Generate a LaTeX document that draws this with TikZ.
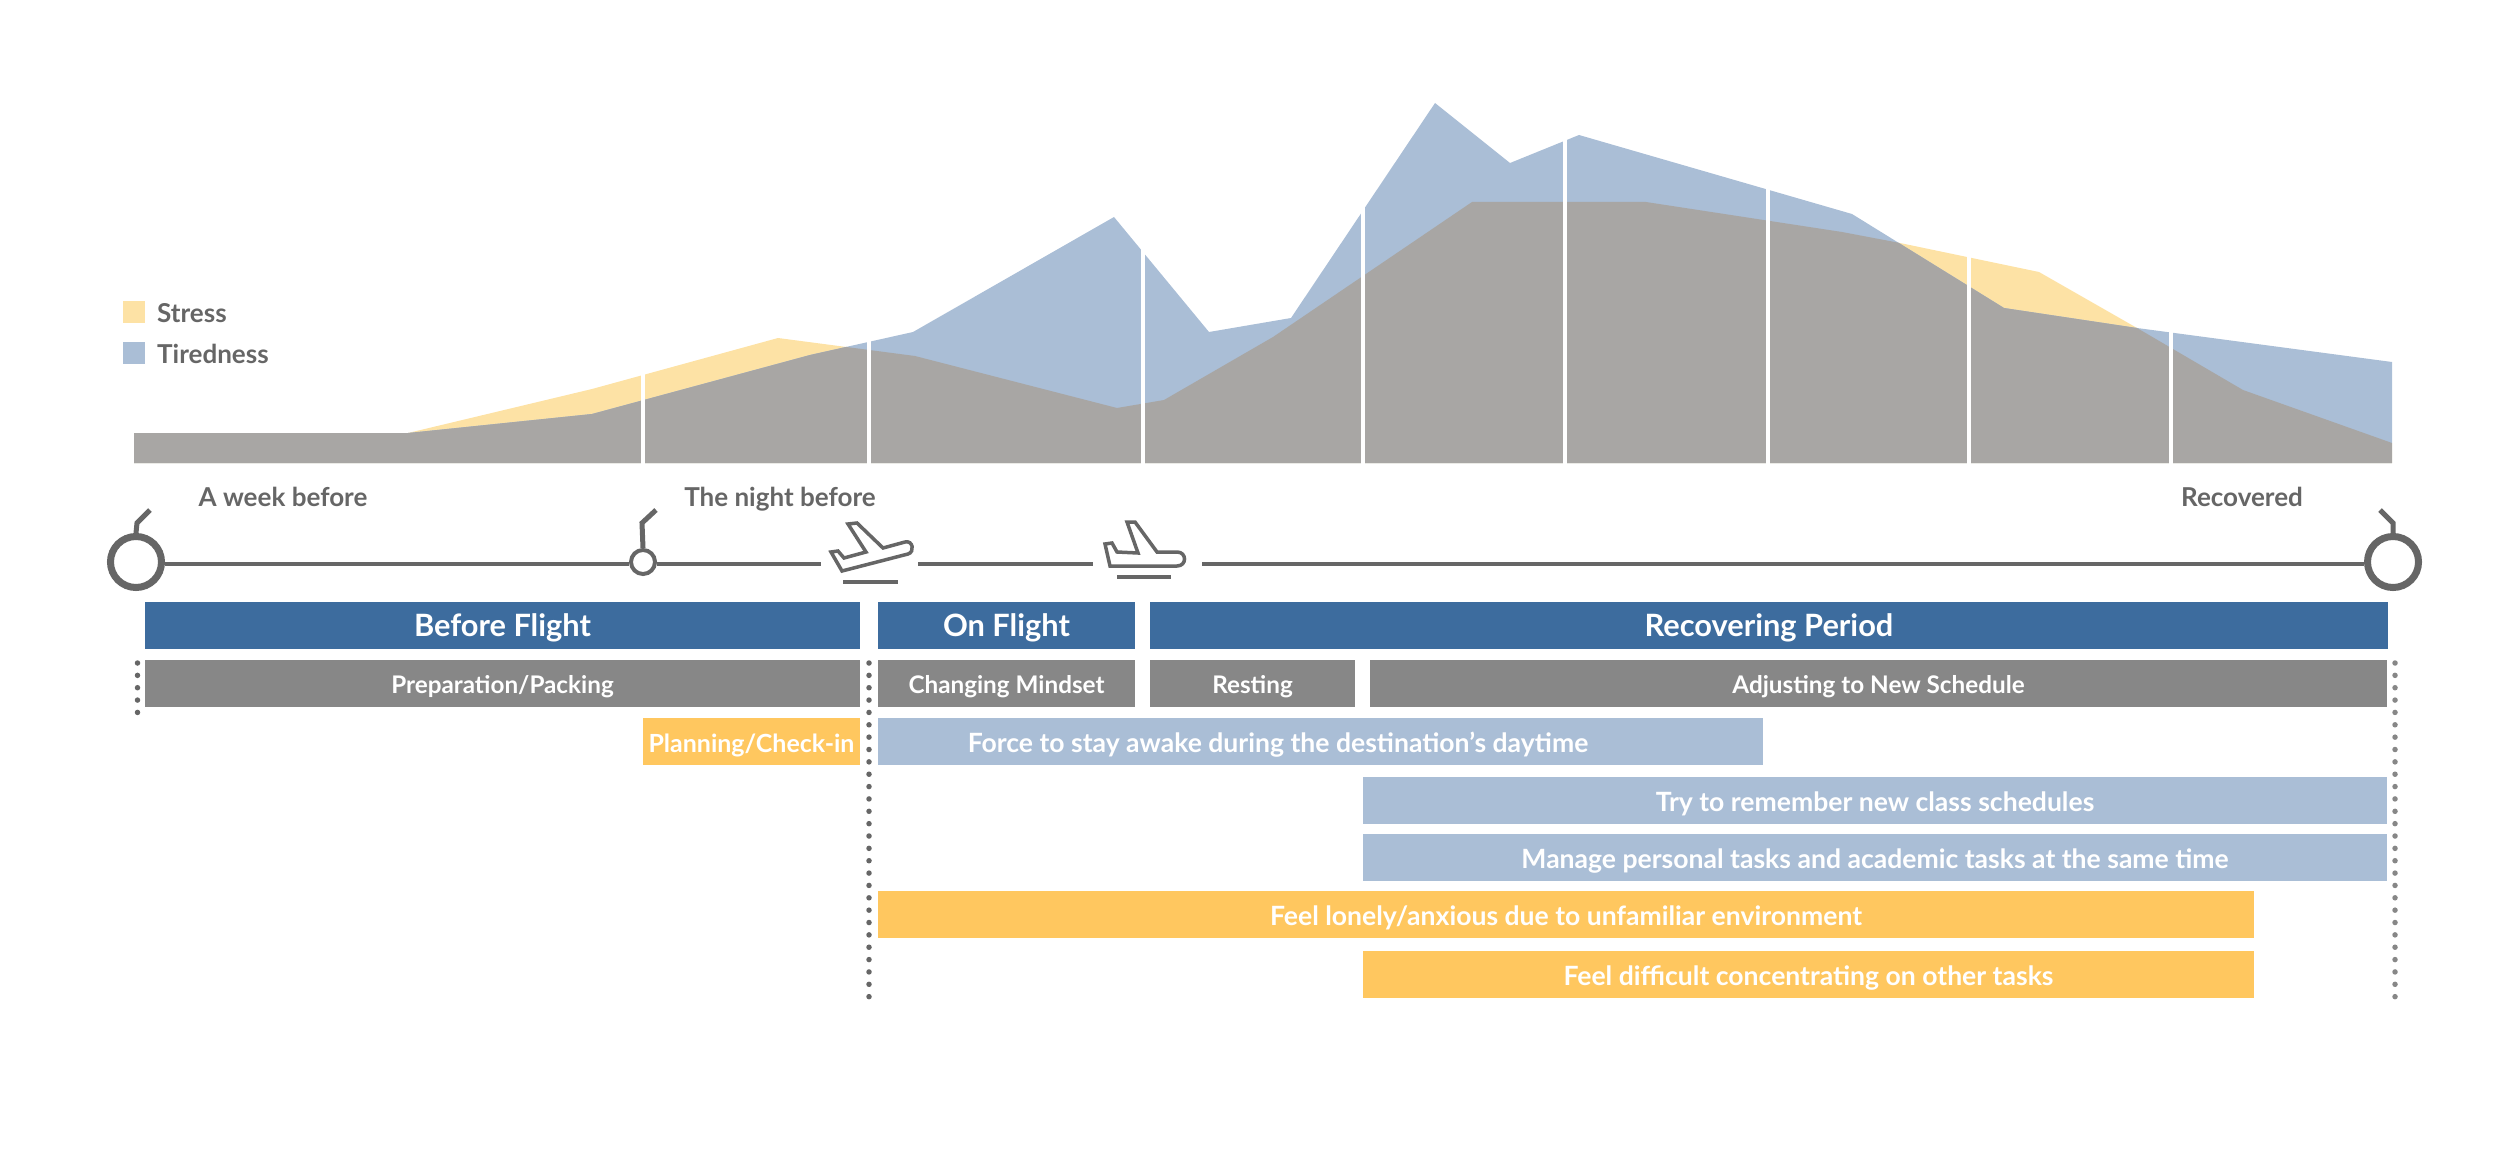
\documentclass[tikz,border=0pt]{standalone}
\usepackage{fontspec}
\setmainfont{Lato}
\usetikzlibrary{positioning}
\definecolor{TripBlue}{HTML}{3D6C9E}
\definecolor{TripGray}{HTML}{878787}
\definecolor{TripOrange}{HTML}{FFC75F}
\definecolor{TripSky}{HTML}{AABED6}
\definecolor{TripYellow}{HTML}{FDE2A5}
\definecolor{TripOverlap}{HTML}{A8A6A4}
\definecolor{TripInk}{HTML}{666666}
\tikzset{
  trip/bar/.style={
    draw=none,
    inner sep=0pt,
    minimum height=0.47cm,
    align=center,
    text=white,
    text height=0.21cm,
    text depth=0pt,
    font=\fontsize{7.55pt}{9pt}\selectfont\bfseries
  },
  trip/phase/.style={trip/bar, fill=TripBlue, text height=0.22cm, font=\fontsize{8.75pt}{10pt}\selectfont\bfseries},
  trip/task/.style={trip/bar, fill=TripGray, text height=0.19cm, font=\fontsize{6.9pt}{8pt}\selectfont\bfseries},
  trip/stress/.style={trip/bar, fill=TripOrange},
  trip/tired/.style={trip/bar, fill=TripSky},
  trip/label/.style={font=\fontsize{7.4pt}{9pt}\selectfont\bfseries, text=TripInk, inner sep=0pt, text height=0.2cm, text depth=0pt},
  trip/bartext/.style={font=\fontsize{7.55pt}{9pt}\selectfont\bfseries, text=white, inner sep=0pt, text height=0.21cm, text depth=0pt},
  trip/swatch/.style={inner sep=0pt, minimum width=0.215cm, minimum height=0.22cm},
  trip/major/.style={circle, draw=TripInk, line width=0.07cm, fill=white, inner sep=0pt, minimum size=0.51cm},
  trip/minor/.style={circle, draw=TripInk, line width=0.04cm, fill=white, inner sep=0pt, minimum size=0.24cm},
  trip/line/.style={draw=TripInk, line width=0.04cm},
  trip/stem/.style={draw=TripInk, line width=0.05cm},
  trip/icon/.style={draw=TripInk, line width=0.035cm, line join=miter},
  trip/dots/.style={draw=TripInk, line width=0.055cm, line cap=round, dash pattern=on 0pt off 0.1235cm},
  trip/divider/.style={draw=white, line width=0.04cm}
}
\begin{document}
\begin{tikzpicture}[x=0.01cm,y=-0.01cm]
  \useasboundingbox (0,0) rectangle (2500,1176);
  % area chart
  \def\stressarea{(134,463) -- (134,433) -- (408,433) -- (592,389) -- (778,338) -- (915,356) -- (1117,408) -- (1164,400) -- (1273,337) -- (1472,202) -- (1646,202) -- (1842,232) -- (1900,243) -- (2039,272) -- (2137,328) -- (2243,390) -- (2392,443) -- (2392,463) -- cycle}
  \def\tiredarea{(134,463) -- (134,433) -- (408,433) -- (592,414) -- (810,355) -- (913,332) -- (1114,217) -- (1209,332) -- (1291,318) -- (1435,103) -- (1510,163) -- (1579,135) -- (1852,214) -- (2004,308) -- (2137,328) -- (2392,362) -- (2392,463) -- cycle}
  \fill[TripYellow] \stressarea;
  \fill[TripSky] \tiredarea;
  \begin{scope}
    \clip \stressarea;
    \fill[TripOverlap] \tiredarea;
  \end{scope}
  \foreach \x in {643,869,1143,1363,1565,1768,1969,2171}
    \draw[trip/divider] (\x,465) -- (\x,60);

  % legend
  \node[trip/swatch,fill=TripYellow] (stresskey) at (134,312) {};
  \node[trip/swatch,fill=TripSky] (tiredkey) at (134,353) {};
  \node[trip/label,right=0.11cm of stresskey] (stresstext) {Stress};
  \node[trip/label,right=0.11cm of tiredkey] (tiredtext) {Tiredness};

  % timeline
  \coordinate (tl) at (0,564);
  \node[trip/major] (startpt) at (136,562) {};
  \node[trip/minor] (nightpt) at (643,562) {};
  \node[trip/major] (endpt) at (2393,562) {};
  \coordinate (takeoffin) at (821,564);
  \coordinate (takeoffout) at (918,564);
  \coordinate (landin) at (1093,564);
  \coordinate (landout) at (1202,564);
  \draw[trip/line] (startpt.east |- tl) -- (nightpt.west |- tl);
  \draw[trip/line] (nightpt.east |- tl) -- (takeoffin);
  \draw[trip/line] (takeoffout) -- (landin);
  \draw[trip/line] (landout) -- (endpt.west |- tl);
  \draw[trip/stem] (startpt.north) -- (137,523) -- (150,510);
  \draw[trip/stem] (nightpt.north) -- (642,523) -- (656,510);
  \draw[trip/stem] (endpt.north) -- (2393,523) -- (2380,510);
  \node[trip/label] (weeklabel) at (283,496) {A week before};
  \node[trip/label] (nightlabel) at (780,496) {The night before};
  \node[trip/label] (recoveredlabel) at (2242,496) {Recovered};

  % plane icons
  \draw[trip/icon] (831,552) -- (838,551) -- (844,558) -- (866,552) -- (848,524) -- (857,523) -- (883,548) -- (905,542)
    .. controls (913,540) and (915,552) .. (908,554) -- (842,571) -- cycle;
  \draw[trip/icon] (843,582) -- (898,582);
  \draw[trip/icon] (1105,544) -- (1112,543) -- (1117,552) -- (1138,553) -- (1127,522) -- (1135,522) -- (1157,552) -- (1177,552)
    .. controls (1187,552) and (1187,566) .. (1177,566) -- (1110,566) -- cycle;
  \draw[trip/icon] (1117,577) -- (1171,577);

  % phases
  \node[trip/phase,minimum width=7.15cm] (before) at (502.5,625.5) {Before Flight};
  \node[trip/phase,minimum width=2.57cm] (onflight) at (1006.5,625.5) {On Flight};
  \node[trip/phase,minimum width=12.38cm] (recovering) at (1769,625.5) {Recovering Period};

  % activities
  \node[trip/task,minimum width=7.15cm] (packing) at (502.5,683.5) {Preparation/Packing};
  \node[trip/task,minimum width=2.57cm] (mindset) at (1006.5,683.5) {Changing Mindset};
  \node[trip/task,minimum width=2.05cm] (resting) at (1252.5,683.5) {Resting};
  \node[trip/task,minimum width=10.17cm] (adjusting) at (1878.5,683.5) {Adjusting to New Schedule};

  % feelings
  \node[trip/stress,minimum width=2.17cm,font=\fontsize{7.1pt}{9pt}\selectfont\bfseries] (planning) at (751.5,741.5) {Planning/Check-in};
  \node[trip/tired,minimum width=8.85cm] (awake) at (1320.5,741.5) {};
  \node[trip/bartext,right=0.9cm of awake.west] (awaketext) {Force to stay awake during the destination's daytime};
  \node[trip/tired,minimum width=10.24cm] (classes) at (1875,800.5) {Try to remember new class schedules};
  \node[trip/tired,minimum width=10.24cm] (manage) at (1875,857.5) {Manage personal tasks and academic tasks at the same time};
  \node[trip/stress,minimum width=13.76cm] (lonely) at (1566,914.5) {Feel lonely/anxious due to unfamiliar environment};
  \node[trip/stress,minimum width=8.91cm] (difficult) at (1808.5,974.5) {Feel difficult concentrating on other tasks};

  % dotted markers
  \coordinate (dotsa) at (137.5,663);
  \coordinate (dotsb) at (137.5,716);
  \coordinate (dotsc) at (869,663);
  \coordinate (dotsd) at (869,998);
  \coordinate (dotse) at (2395,663);
  \coordinate (dotsf) at (2395,998);
  \draw[trip/dots] (dotsa) -- (dotsb);
  \draw[trip/dots] (dotsc) -- (dotsd);
  \draw[trip/dots,draw=TripGray] (dotse) -- (dotsf);
\end{tikzpicture}
\end{document}
